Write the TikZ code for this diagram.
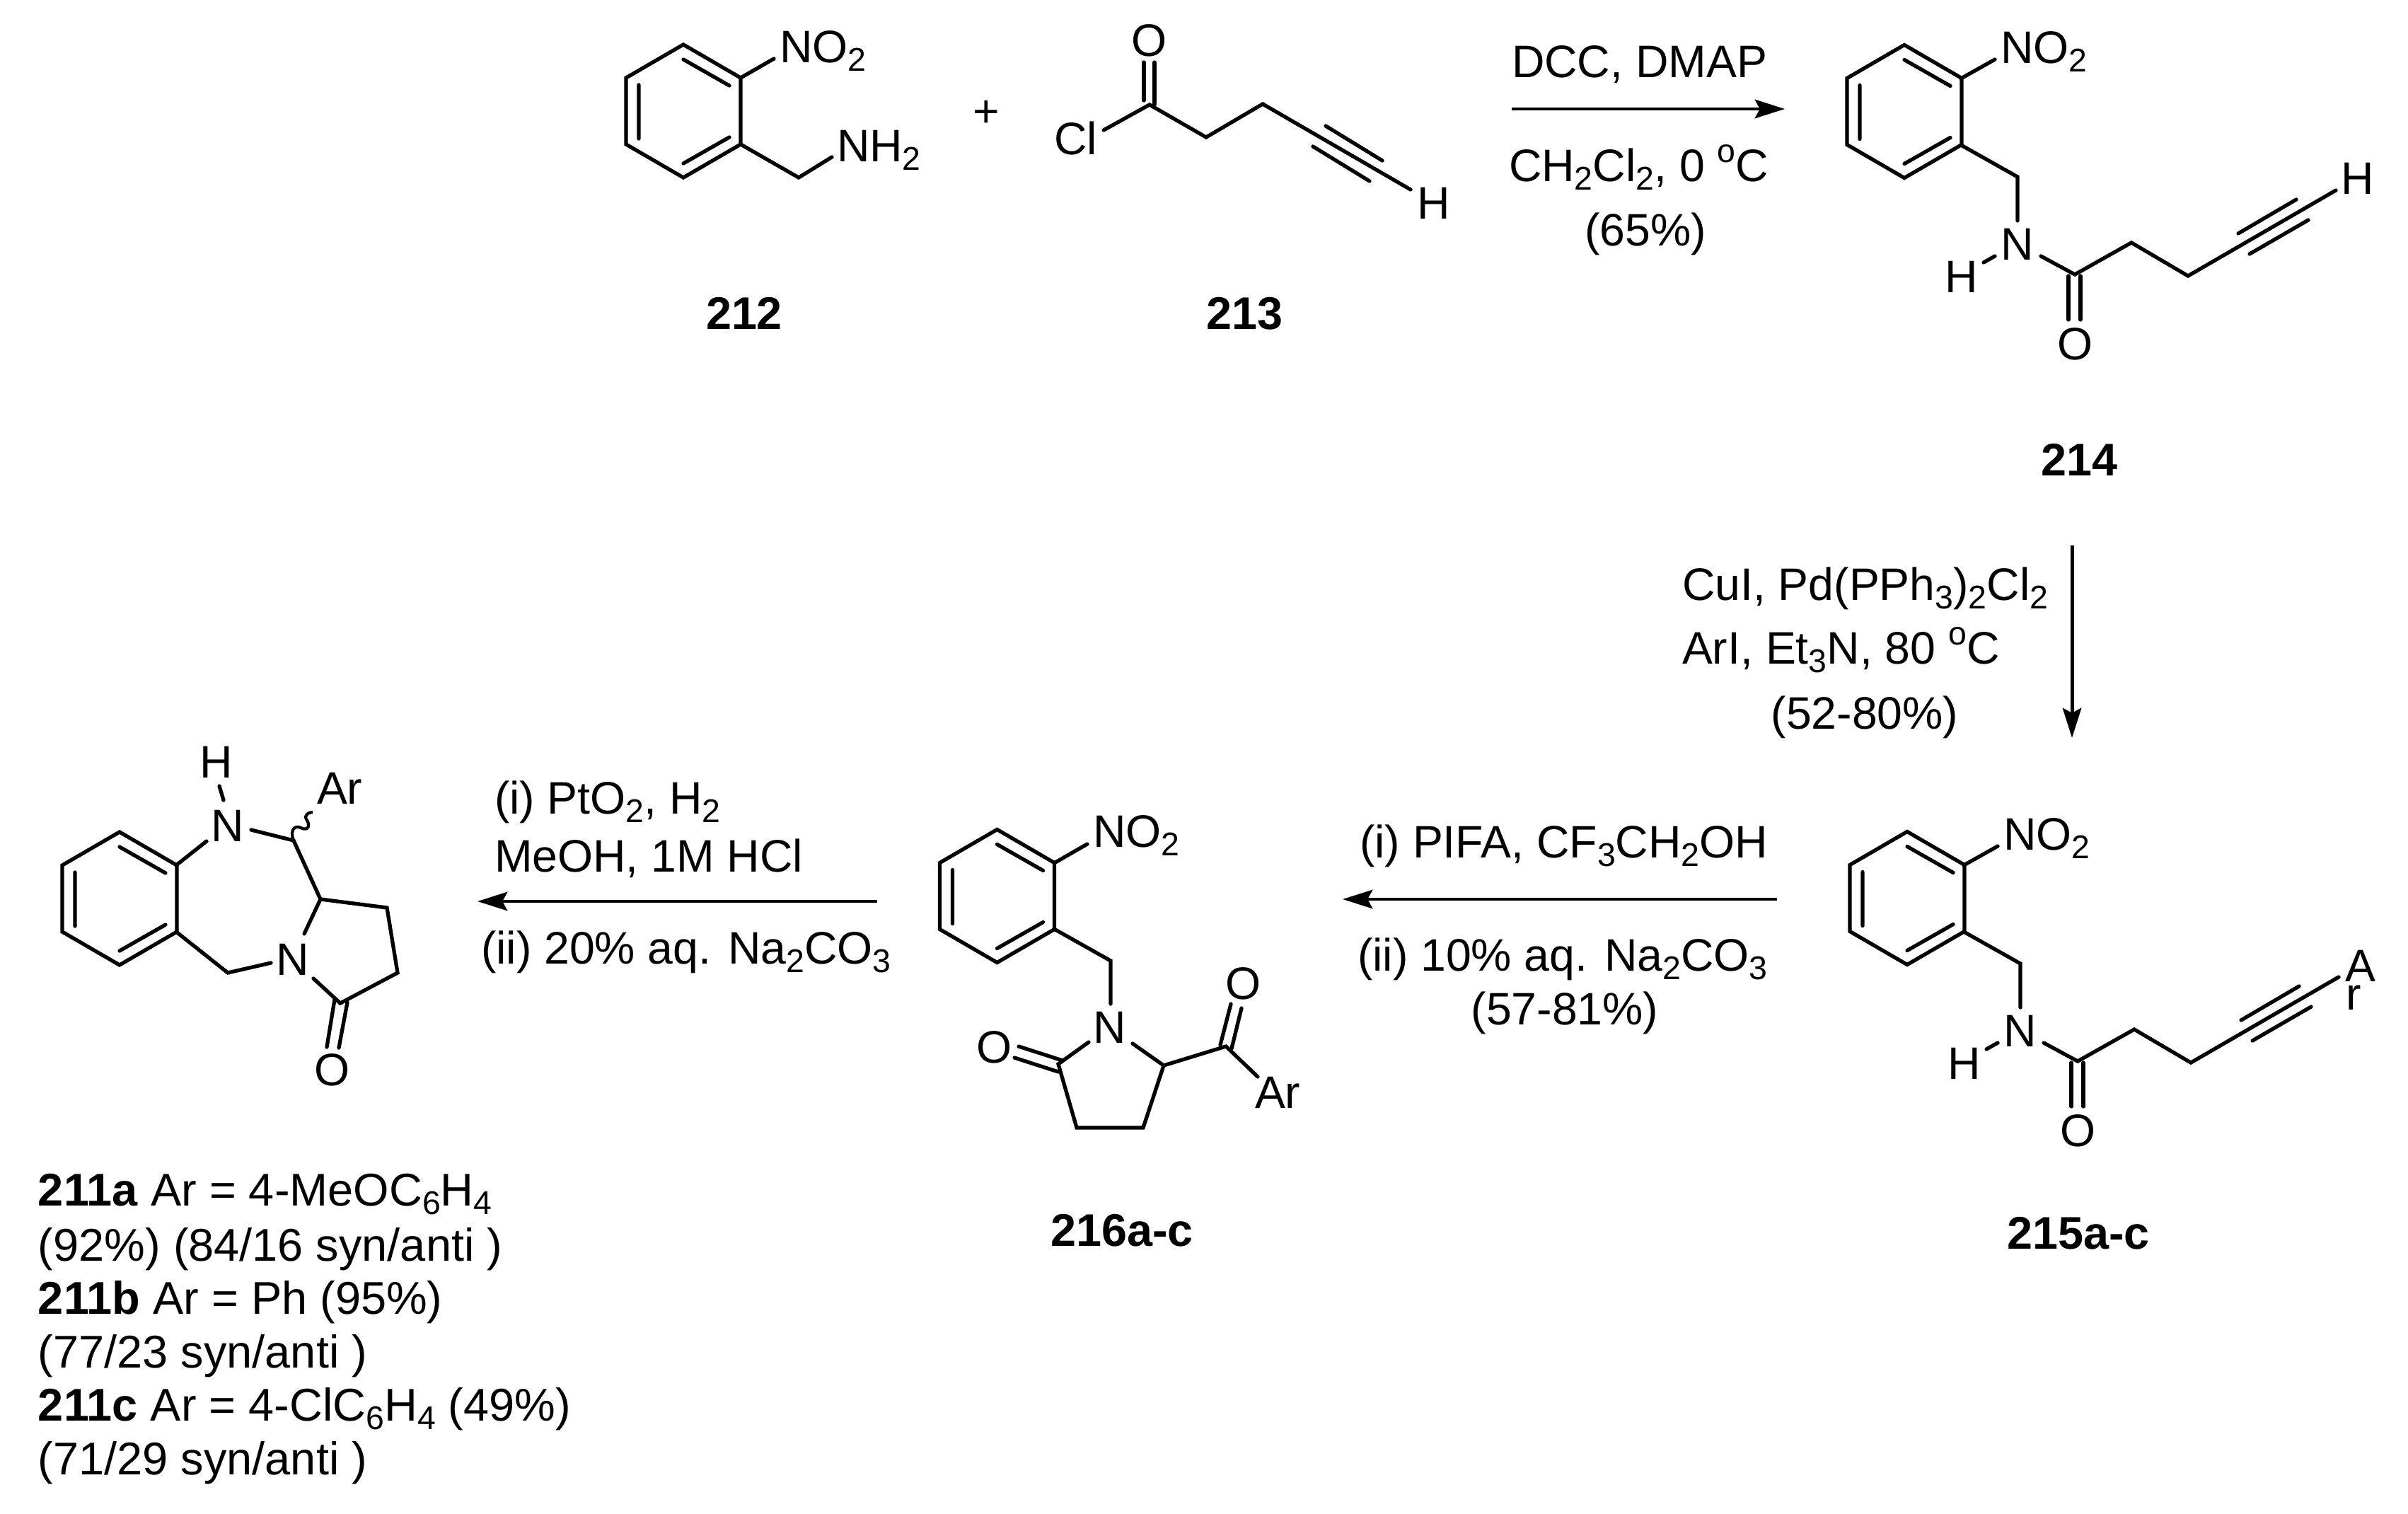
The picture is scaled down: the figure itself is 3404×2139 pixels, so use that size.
\documentclass[tikz,border=0pt]{standalone}
\usepackage{fontspec}
\setmainfont{Liberation Sans}
\usetikzlibrary{arrows.meta}
\newcommand{\subx}[1]{\raisebox{-3.6pt}{\fontsize{13.2}{15}\selectfont #1}}
\newcommand{\supx}[1]{\raisebox{7.6pt}{\fontsize{13.2}{15}\selectfont #1}}
\tikzset{
  bond/.style={line width=1.5pt,line join=miter,line cap=round},
  lab/.style={inner sep=0pt,outer sep=0pt,anchor=base west,font=\fontsize{18.3}{22}\selectfont},
  note/.style={lab,font=\fontsize{18.45}{22}\selectfont},
  labc/.style={lab,anchor=base},
  cpd/.style={labc,font=\fontsize{18.4}{22}\selectfont\bfseries},
  rxn/.style={line width=1.4pt,-{Stealth[length=12pt,width=7.5pt,inset=2pt]}},
}
\newcommand{\benzene}[1]{%
\begin{scope}[shift={(#1)}]
\draw[bond] (0,-94)--(81,-47)--(81,47)--(0,94)--(-81,47)--(-81,-47)--cycle;
\draw[bond] (-63,-37)--(-63,39) (0,-73)--(65,-36) (0,74)--(65,37);
\end{scope}}
% amide side chain with o-nitrobenzyl, shared by 214 and 215
\newcommand{\amide}[1]{%
\begin{scope}[shift={(#1)}]
\draw[bond] (2772,111)--(2820,84);
\draw[bond] (2772,205)--(2852,250)--(2852,312);
\draw[bond] (2820,362)--(2804,371);
\draw[bond] (2885,362)--(2933,388)--(3013,343)--(3093,390)--(3302,269);
\draw[bond] (2924,390)--(2924,452) (2941,390)--(2941,452);
\draw[bond] (3164,330)--(3246,282) (3180,359)--(3263,311);
\end{scope}}
\begin{document}
\begin{tikzpicture}[x=0.01cm,y=-0.01cm]
\useasboundingbox (0,0) rectangle (3404,2139);
\fill[white] (0,0) rectangle (3404,2139);
% 212
\benzene{966,157}
\draw[bond] (1047,110)--(1094,83);
\draw[bond] (1047,204)--(1129,251)--(1176,222);
\node[lab] (a1) at (1102,88) {NO\subx{2}};
\node[lab] (a2) at (1183,228) {NH\subx{2}};
\node[labc] (plus) at (1394,179) {+};
% 213
\draw[bond] (1617,88)--(1617,142) (1632,88)--(1632,148);
\draw[bond] (1560,184)--(1625,148)--(1705,194)--(1785,147)--(1994,268);
\draw[bond] (1874,178)--(1954,227) (1856,207)--(1936,256);
\node[labc] (b1) at (1625,79) {O};
\node[lab] (b2) at (1490,218) {Cl};
\node[lab] (b3) at (2003,309) {H};
\node[cpd] (c212) at (1052,465) {212};
\node[cpd] (c213) at (1759,465) {213};
% 214
\benzene{2692,157.5}
\amide{0,0}
\node[lab] (d1) at (2828,89) {NO\subx{2}};
\node[lab] (d2) at (2828,367) {N};
\node[lab] (d3) at (2749,413) {H};
\node[labc] (d4) at (2933,508) {O};
\node[lab] (d5) at (3309,274) {H};
\node[cpd] (c214) at (2939,672) {214};
% 215
\benzene{2696,1269.5}
\amide{4,1112}
\node[lab] (e1) at (2832,1201) {NO\subx{2}};
\node[lab] (e2) at (2832,1479) {N};
\node[lab] (e3) at (2753,1525) {H};
\node[labc] (e4) at (2937,1620) {O};
\node[lab] (e5) at (3315,1387) {A};
\node[lab] (e6) at (3316,1427) {r};
\node[cpd] (c215) at (2938,1765) {215a-c};
% 216
\benzene{1409.5,1266.5}
\draw[bond] (1490,1220)--(1537,1193);
\draw[bond] (1490,1313)--(1570,1358)--(1570,1419);
\draw[bond] (1539,1473)--(1496,1504)--(1522,1594)--(1616,1594)--(1645,1506)--(1601,1475);
\draw[bond] (1502,1499)--(1440,1479) (1496,1515)--(1434,1495);
\draw[bond] (1645,1506)--(1733,1479)--(1778,1522);
\draw[bond] (1725,1477)--(1740,1419) (1741,1482)--(1755,1425);
\node[lab] (f1) at (1545,1197) {NO\subx{2}};
\node[lab] (f2) at (1545,1474) {N};
\node[labc] (f3) at (1406,1502) {O};
\node[labc] (f4) at (1757,1412) {O};
\node[lab] (f5) at (1774,1566) {Ar};
\node[cpd] (c216) at (1586,1761) {216a-c};
% 211
\benzene{169,1270}
\draw[bond] (249,1223)--(292,1189);
\draw[bond] (316,1131)--(310,1111);
\draw[bond] (355,1173)--(415,1188)--(453,1271)--(430,1320);
\draw[bond] (453,1271)--(547,1283)--(562,1375)--(481,1418)--(443,1383);
\draw[bond] (249,1317)--(322,1375)--(383,1361);
\draw[bond] (473,1413)--(462,1480) (491,1417)--(479,1481);
\draw[line width=1.2pt] (415,1188) .. controls (409,1172) and (418,1166) .. (425,1170) .. controls (438,1176) and (438,1164) .. (433,1158) .. controls (430,1152) and (436,1148) .. (442,1148);
\node[lab] (g1) at (298,1189) {N};
\node[lab] (g2) at (282,1099) {H};
\node[lab] (g3) at (390,1378) {N};
\node[labc] (g4) at (470,1534) {O};
\node[lab] (g5) at (448,1136) {Ar};
% reagents
\node[lab] (r1a) at (2137,109) {DCC, DMAP};
\coordinate (r1s) at (2137,154);
\coordinate (r1e) at (2523,154);
\draw[rxn] (r1s)--(r1e);
\node[lab] (r1b) at (2133,256) {CH\subx{2}Cl\subx{2}, 0 \supx{o}C};
\node[labc] (r1c) at (2326,347) {(65\%)};
\coordinate (r2s) at (2929,771);
\coordinate (r2e) at (2929,1043);
\draw[rxn] (r2s)--(r2e);
\node[lab] (r2a) at (2378,848) {CuI, Pd(PPh\subx{3})\subx{2}Cl\subx{2}};
\node[lab] (r2b) at (2378,938) {ArI, Et\subx{3}N, 80 \supx{o}C};
\node[labc] (r2c) at (2636,1030) {(52-80\%)};
\coordinate (r3s) at (2512,1271);
\coordinate (r3e) at (1898,1271);
\draw[rxn] (r3s)--(r3e);
\node[lab] (r3a) at (1922,1212) {(i) PIFA, CF\subx{3}CH\subx{2}OH};
\node[lab] (r3b) at (1919,1372) {(ii) 10\% aq. Na\subx{2}CO\subx{3}};
\node[labc] (r3c) at (2212,1448) {(57-81\%)};
\coordinate (r4s) at (1240,1274);
\coordinate (r4e) at (675,1274);
\draw[rxn] (r4s)--(r4e);
\node[lab] (r4a) at (699,1150) {(i) PtO\subx{2}, H\subx{2}};
\node[lab] (r4b) at (699,1232) {MeOH, 1M HCl};
\node[lab] (r4c) at (680,1362) {(ii) 20\% aq. Na\subx{2}CO\subx{3}};
% footnotes
\node[note] (t1) at (54,1704) {\textbf{211a} Ar = 4-MeOC\subx{6}H\subx{4}};
\node[note] (t2) at (54,1782) {(92\%) (84/16 syn/anti )};
\node[note] (t3) at (54,1857) {\textbf{211b} Ar = Ph (95\%)};
\node[note] (t4) at (54,1933) {(77/23 syn/anti )};
\node[note] (t5) at (54,2008) {\textbf{211c} Ar = 4-ClC\subx{6}H\subx{4} (49\%)};
\node[note] (t6) at (54,2084) {(71/29 syn/anti )};
\end{tikzpicture}
\end{document}
